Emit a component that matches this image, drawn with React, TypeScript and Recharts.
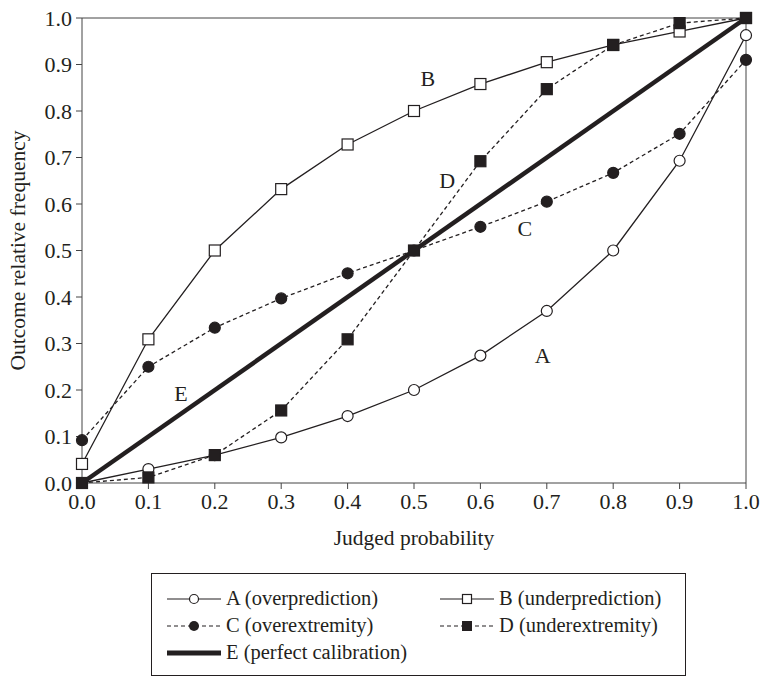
import React from 'react';
import {
  LineChart,
  Line,
  XAxis,
  YAxis,
  ReferenceLine,
  ReferenceDot
} from 'recharts';

const judged = [0, 0.1, 0.2, 0.3, 0.4, 0.5, 0.6, 0.7, 0.8, 0.9, 1.0];
const overprediction = [0, 0.03, 0.06, 0.098, 0.144, 0.2, 0.274, 0.37, 0.5, 0.693, 0.963];
const underprediction = [0.041, 0.309, 0.5, 0.632, 0.728, 0.8, 0.858, 0.905, 0.942, 0.971, 1.0];
const overextremity = [0.092, 0.25, 0.334, 0.397, 0.451, 0.5, 0.551, 0.605, 0.667, 0.751, 0.91];
const underextremity = [0, 0.012, 0.06, 0.156, 0.309, 0.5, 0.692, 0.847, 0.942, 0.989, 1.0];
const calibration = [0, 1];
const calibrationX = [0, 1];
const ticks = [0, 0.1, 0.2, 0.3, 0.4, 0.5, 0.6, 0.7, 0.8, 0.9, 1.0];

const curveLabels = [
  { name: 'A', x: 0.694, y: 0.275 },
  { name: 'B', x: 0.521, y: 0.871 },
  { name: 'C', x: 0.667, y: 0.548 },
  { name: 'D', x: 0.55, y: 0.652 },
  { name: 'E', x: 0.149, y: 0.194 },
];

const toPoints = (xs: number[], ys: number[]) => xs.map((x, i) => ({ x, y: ys[i] }));

const INK = '#231f20';
const FONT = '"Liberation Serif", "DejaVu Serif", serif';

const circleDot = (fill: string, id: string) => (p: any) => (
  <circle key={`${id}-${p.index}`} cx={p.cx} cy={p.cy} r={5.5} fill={fill} stroke={INK} strokeWidth={1.2} />
);

const squareDot = (fill: string, id: string) => (p: any) => (
  <rect key={`${id}-${p.index}`} x={p.cx - 5.5} y={p.cy - 5.5} width={11} height={11} fill={fill} stroke={INK} strokeWidth={1.2} />
);

const LegendItem: React.FC<{ kind: string; text: string }> = ({ kind, text }) => {
  const dashed = kind === 'C' || kind === 'D';
  return (
    <div style={{ display: 'flex', alignItems: 'center', height: 27 }}>
      <svg width={56} height={16} style={{ marginRight: 3 }}>
        {kind === 'E' ? (
          <line x1={0} y1={8} x2={54} y2={8} stroke={INK} strokeWidth={5} />
        ) : (
          <line x1={0} y1={8} x2={54} y2={8} stroke={INK} strokeWidth={1.2} strokeDasharray={dashed ? '4 3' : undefined} />
        )}
        {kind === 'A' && <circle cx={27} cy={8} r={4.5} fill="#fff" stroke={INK} strokeWidth={1.2} />}
        {kind === 'C' && <circle cx={27} cy={8} r={5} fill={INK} />}
        {kind === 'B' && <rect x={22.5} y={3.5} width={9} height={9} fill="#fff" stroke={INK} strokeWidth={1.2} />}
        {kind === 'D' && <rect x={22} y={3} width={10} height={10} fill={INK} />}
      </svg>
      <span>{text}</span>
    </div>
  );
};

export default function App() {
  return (
    <div style={{ position: 'absolute', left: 0, top: 0, width: 765, height: 681, background: '#fff', fontFamily: FONT }}>
      <LineChart width={765} height={560} margin={{ top: 18, right: 19, bottom: 37, left: 5 }} style={{ fontFamily: FONT }}>
        <XAxis
          type="number"
          dataKey="x"
          domain={[0, 1]}
          ticks={ticks}
          tickFormatter={(v: number) => v.toFixed(1)}
          height={40}
          tickSize={6}
          tickMargin={4}
          stroke="#444"
          tick={{ fill: INK, fontSize: 22 }}
          label={{ value: 'Judged probability', position: 'bottom', offset: 7, fill: INK, fontSize: 21.5 }}
        />
        <YAxis
          type="number"
          domain={[0, 1]}
          ticks={ticks}
          tickFormatter={(v: number) => v.toFixed(1)}
          width={77}
          tickSize={6}
          tickMargin={4}
          stroke="#444"
          tick={{ fill: INK, fontSize: 22 }}
          label={{ value: 'Outcome relative frequency', angle: -90, position: 'insideLeft', offset: 12, textAnchor: 'middle', fill: INK, fontSize: 21.5 }}
        />
        <ReferenceLine y={1} stroke="#444" />
        <ReferenceLine x={1} stroke="#444" />
        <Line data={toPoints(calibrationX, calibration)} dataKey="y" stroke={INK} strokeWidth={4.5} dot={false} activeDot={false} isAnimationActive={false} />
        <Line data={toPoints(judged, overprediction)} dataKey="y" stroke={INK} strokeWidth={1.3} dot={circleDot('#fff', 'a')} activeDot={false} isAnimationActive={false} />
        <Line data={toPoints(judged, underprediction)} dataKey="y" stroke={INK} strokeWidth={1.3} dot={squareDot('#fff', 'b')} activeDot={false} isAnimationActive={false} />
        <Line data={toPoints(judged, overextremity)} dataKey="y" stroke={INK} strokeWidth={1.3} strokeDasharray="4 3" dot={circleDot(INK, 'c')} activeDot={false} isAnimationActive={false} />
        <Line data={toPoints(judged, underextremity)} dataKey="y" stroke={INK} strokeWidth={1.3} strokeDasharray="4 3" dot={squareDot(INK, 'd')} activeDot={false} isAnimationActive={false} />
        {curveLabels.map((l) => (
          <ReferenceDot key={l.name} x={l.x} y={l.y} r={0} stroke="none" label={{ value: l.name, position: 'center', fill: INK, fontSize: 22 }} />
        ))}
      </LineChart>
      <div
        style={{
          position: 'absolute',
          left: 151,
          top: 573,
          width: 535,
          height: 103,
          border: `1.5px solid ${INK}`,
          fontSize: 20.5,
          color: INK,
          boxSizing: 'border-box',
          padding: '11px 0 0 15px',
          display: 'grid',
          gridTemplateColumns: '273px 240px',
          alignContent: 'start',
        }}
      >
        <LegendItem kind="A" text="A (overprediction)" />
        <LegendItem kind="B" text="B (underprediction)" />
        <LegendItem kind="C" text="C (overextremity)" />
        <LegendItem kind="D" text="D (underextremity)" />
        <LegendItem kind="E" text="E (perfect calibration)" />
      </div>
    </div>
  );
}
